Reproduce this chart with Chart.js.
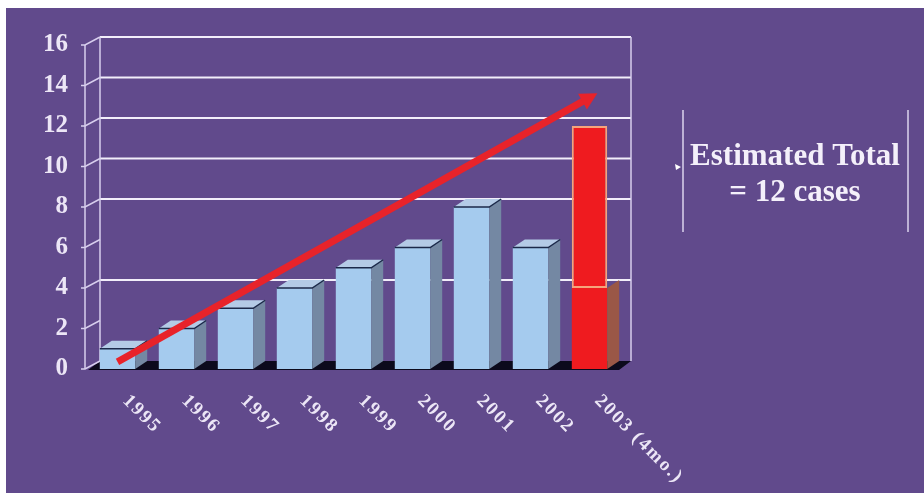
<!DOCTYPE html>
<html>
<head>
<meta charset="utf-8">
<script src="https://cdn.jsdelivr.net/npm/chart.js@4"></script>
<style>
    html, body { margin: 0; padding: 0; background: #ffffff; }
    #wrap { position: absolute; left: 6px; top: 8px; width: 918px; height: 485px; background: #614a8c; }
    #chart { position: absolute; left: 0; top: 0; }
</style>
</head>
<body>
<div id="wrap"></div>
<canvas id="chart" width="924" height="493"></canvas>
<script>
// データ
const years = ["1995", "1996", "1997", "1998", "1999", "2000", "2001", "2002", "2003 (4mo.)"];
const actualCases = [1, 2, 3, 4, 5, 6, 8, 6, 4];
const estimatedExtra = [0, 0, 0, 0, 0, 0, 0, 0, 8];
const trendLine = [0.35, null, null, null, null, null, null, null, 13.4];
const yTicks = [0, 2, 4, 6, 8, 10, 12, 14, 16];
const hiddenGrid = [0, 2, 6];
const noteLines = ["Estimated Total", "= 12 cases"];

const depthX = 12, depthY = 8;
const labelColor = "#ece6f6";

// 3D風の床・壁・棒の側面を描くプラグイン
const box3d = {
    id: "box3d",
    beforeDatasetsDraw(chart) {
        const { ctx, chartArea: a, scales } = chart;
        const y = scales.y;
        const y0 = y.getPixelForValue(0);
        const yTop = y.getPixelForValue(16);
        ctx.save();
        // 床
        ctx.fillStyle = "#0c0a1c";
        ctx.beginPath();
        ctx.moveTo(a.left, y0 + 1);
        ctx.lineTo(a.right, y0 + 1);
        ctx.lineTo(a.right + depthX, y0 - depthY);
        ctx.lineTo(a.left + depthX, y0 - depthY);
        ctx.closePath();
        ctx.fill();
        // 奥の壁の目盛線
        ctx.strokeStyle = "#f2eefa";
        ctx.lineWidth = 2;
        yTicks.forEach(v => {
            if (hiddenGrid.includes(v)) return;
            const py = y.getPixelForValue(v) - depthY;
            ctx.beginPath();
            ctx.moveTo(a.left + depthX, py);
            ctx.lineTo(a.right + depthX, py);
            ctx.stroke();
        });
        // 壁の縦線
        ctx.strokeStyle = "#d8cfee";
        ctx.lineWidth = 1.5;
        [a.left + depthX, a.right + depthX].forEach(px => {
            ctx.beginPath();
            ctx.moveTo(px, yTop - depthY);
            ctx.lineTo(px, y0 - depthY);
            ctx.stroke();
        });
        // 手前の軸と目盛のつなぎ線
        ctx.beginPath();
        ctx.moveTo(a.left - 3, yTop);
        ctx.lineTo(a.left - 3, y0);
        ctx.stroke();
        yTicks.forEach(v => {
            const py = y.getPixelForValue(v);
            ctx.beginPath();
            ctx.moveTo(a.left - 7, py);
            ctx.lineTo(a.left - 3, py);
            ctx.lineTo(a.left + depthX, py - depthY);
            ctx.stroke();
        });
        ctx.restore();
    },
    afterDatasetDraw(chart, args) {
        if (args.index !== 0) return;
        const { ctx } = chart;
        const meta = chart.getDatasetMeta(0);
        ctx.save();
        meta.data.forEach((bar, i) => {
            const p = bar.getProps(["x", "y", "base", "width"], true);
            const l = p.x - p.width / 2, r = p.x + p.width / 2;
            const last = i === meta.data.length - 1;
            // 側面
            ctx.fillStyle = last ? "#9a5746" : "#7488a3";
            ctx.beginPath();
            ctx.moveTo(r, p.y);
            ctx.lineTo(r + depthX, p.y - depthY);
            ctx.lineTo(r + depthX, p.base - depthY);
            ctx.lineTo(r, p.base);
            ctx.closePath();
            ctx.fill();
            if (last) return;
            // 上面
            ctx.fillStyle = "#b4cbe6";
            ctx.beginPath();
            ctx.moveTo(l, p.y);
            ctx.lineTo(l + depthX, p.y - depthY);
            ctx.lineTo(r + depthX, p.y - depthY);
            ctx.lineTo(r, p.y);
            ctx.closePath();
            ctx.fill();
            ctx.strokeStyle = "#1c2a4a";
            ctx.lineWidth = 1.5;
            ctx.beginPath();
            ctx.moveTo(l, p.y);
            ctx.lineTo(r, p.y);
            ctx.lineTo(r + depthX, p.y - depthY);
            ctx.stroke();
        });
        ctx.restore();
    },
    afterDraw(chart) {
        const { ctx, scales } = chart;
        const x = scales.x;
        ctx.save();
        // 矢印の先
        const pts = chart.getDatasetMeta(2).data;
        const s = pts[0], e = pts[pts.length - 1];
        const ang = Math.atan2(e.y - s.y, e.x - s.x);
        ctx.fillStyle = "#e8232a";
        ctx.translate(e.x, e.y);
        ctx.rotate(ang);
        ctx.beginPath();
        ctx.moveTo(9, 0);
        ctx.lineTo(-8, -9);
        ctx.lineTo(-8, 9);
        ctx.closePath();
        ctx.fill();
        ctx.restore();

        // 斜めの年ラベル
        ctx.save();
        ctx.fillStyle = labelColor;
        ctx.font = "bold 19px 'Liberation Serif'";
        ctx.letterSpacing = "2px";
        ctx.textAlign = "left";
        ctx.textBaseline = "middle";
        years.forEach((lab, i) => {
            ctx.save();
            ctx.translate(x.getPixelForValue(i) + 8, 398);
            ctx.rotate(Math.PI / 4);
            ctx.fillText(lab, 0, 0);
            ctx.restore();
        });
        ctx.restore();

        // 注記
        ctx.save();
        ctx.fillStyle = "#f4f0fa";
        ctx.font = "bold 31px 'Liberation Serif'";
        ctx.textAlign = "center";
        ctx.textBaseline = "middle";
        ctx.fillText(noteLines[0], 795, 157);
        ctx.fillText(noteLines[1], 795, 193);
        ctx.strokeStyle = "#ddd5ee";
        ctx.lineWidth = 1.5;
        [683, 908].forEach(px => {
            ctx.beginPath();
            ctx.moveTo(px, 110);
            ctx.lineTo(px, 232);
            ctx.stroke();
        });
        ctx.fillStyle = "#ffffff";
        ctx.beginPath();
        ctx.moveTo(681, 167);
        ctx.lineTo(675, 164);
        ctx.lineTo(676, 170);
        ctx.closePath();
        ctx.fill();
        ctx.restore();
    }
};

const ctx = document.getElementById("chart").getContext("2d");
new Chart(ctx, {
    type: "bar",
    data: {
        labels: years,
        datasets: [
            {
                label: "Cases",
                data: actualCases,
                backgroundColor: years.map((_, i) => i === years.length - 1 ? "#ef1b1f" : "#a5cbee"),
                borderWidth: 0,
                stack: "bars",
                order: 1,
            },
            {
                label: "Estimated",
                data: estimatedExtra,
                backgroundColor: "#ef1b1f",
                borderColor: years.map((_, i) => i === years.length - 1 ? "#f5a47c" : "rgba(0,0,0,0)"),
                borderWidth: years.map((_, i) => i === years.length - 1 ? 2 : 0),
                borderSkipped: false,
                stack: "bars",
                order: 2,
            },
            {
                type: "line",
                label: "Trend",
                data: trendLine,
                spanGaps: true,
                borderColor: "#e8232a",
                borderWidth: 7,
                pointRadius: 0,
                stack: "trend",
                order: 0,
            },
        ],
    },
    options: {
        responsive: false,
        animation: false,
        layout: { padding: { left: 0, top: 45, right: 305, bottom: 124 } },
        datasets: { bar: { barPercentage: 0.6, categoryPercentage: 1 } },
        scales: {
            x: {
                stacked: true,
                grid: { display: false },
                border: { display: false },
                ticks: { display: false },
                afterFit: (s) => { s.height = 0; },
            },
            y: {
                stacked: true,
                min: 0,
                max: 16,
                grid: { display: false },
                border: { display: false },
                afterFit: (s) => { s.width = 88; },
                ticks: {
                    stepSize: 2,
                    padding: 12,
                    color: labelColor,
                    font: { family: "'Liberation Serif'", size: 25, weight: "bold" },
                },
            },
        },
        plugins: {
            legend: { display: false },
            tooltip: { enabled: false },
        },
    },
    plugins: [box3d],
});
</script>
</body>
</html>
